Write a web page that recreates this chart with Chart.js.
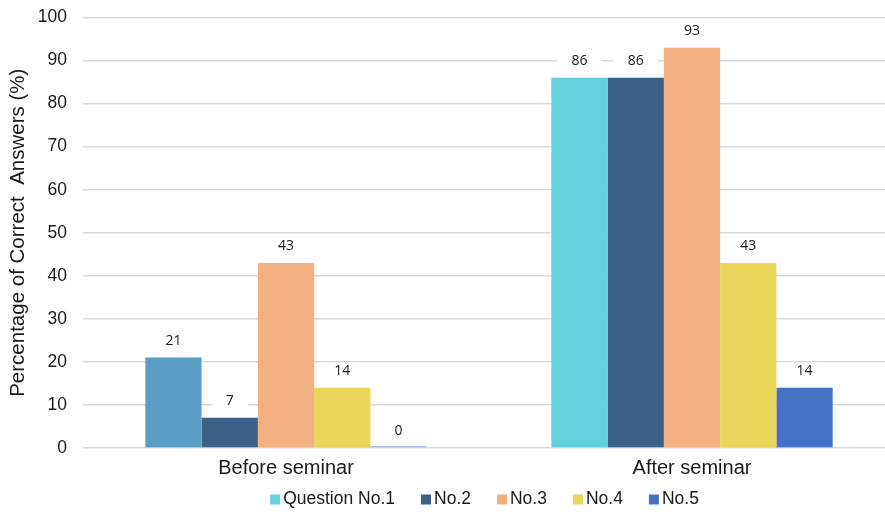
<!DOCTYPE html>
<html>
<head>
<meta charset="utf-8">
<script src="https://cdn.jsdelivr.net/npm/chart.js@4.4.0/dist/chart.umd.min.js"></script>
<style>
  html, body { margin: 0; padding: 0; background: #ffffff; overflow: hidden; }
  #wrap { position: relative; width: 895px; height: 514px; }
</style>
</head>
<body>
<div id="wrap"><canvas id="chart"></canvas></div>
<script>
// Categories (x axis)
const categories = ['Before seminar', 'After seminar'];

// Series names
const seriesNames = ['Question No.1', 'No.2', 'No.3', 'No.4', 'No.5'];

// Percentage of correct answers per question
const q1 = [21, 86];
const q2 = [7, 86];
const q3 = [43, 93];
const q4 = [14, 43];
const q5 = [0, 14];

// Y axis ticks
const yTicks = [0, 10, 20, 30, 40, 50, 60, 70, 80, 90, 100];

// Fill colours: one per bar, and one swatch per legend entry
const barColors = [
  ['#5A9EC5', '#62D1DB'],
  ['#3A6186', '#3A6186'],
  ['#F3B083', '#F3B083'],
  ['#EAD65A', '#EAD65A'],
  ['#A9BDE2', '#4472C4']
];
const legendColors = ['#62D1DB', '#3A6186', '#F3B083', '#EAD65A', '#4472C4'];

const seriesValues = [q1, q2, q3, q4, q5];

const datasets = seriesValues.map((vals, i) => ({
  label: seriesNames[i],
  data: vals,
  backgroundColor: barColors[i],
  borderWidth: 0,
  minBarLength: i === 4 ? 2 : 0,
  categoryPercentage: 0.693,
  barPercentage: 1.0
}));

const FONT = '"Liberation Sans", Arial, sans-serif';
const TEXT = '#1a1a1a';

// Value labels above each bar on a white plate
const valueLabels = {
  id: 'valueLabels',
  afterDatasetsDraw(chart) {
    const ctx = chart.ctx;
    ctx.save();
    ctx.font = '14px "Open Sans", "DejaVu Sans", sans-serif';
    ctx.textAlign = 'center';
    ctx.textBaseline = 'middle';
    chart.data.datasets.forEach((ds, di) => {
      const meta = chart.getDatasetMeta(di);
      meta.data.forEach((bar, i) => {
        const v = ds.data[i];
        const yTop = chart.scales.y.getPixelForValue(v);
        const cy = yTop - 17;
        const text = String(v);
        const w = ctx.measureText(text).width + 28;
        ctx.fillStyle = '#ffffff';
        ctx.fillRect(bar.x - w / 2, cy - 8, w, 16);
        ctx.fillStyle = TEXT;
        ctx.fillText(text, bar.x, cy);
      });
    });
    ctx.restore();
  }
};

// Legend row below the category labels
const bottomLegend = {
  id: 'bottomLegend',
  afterDraw(chart) {
    const ctx = chart.ctx;
    ctx.save();
    ctx.font = '17.5px ' + FONT;
    ctx.textBaseline = 'middle';
    ctx.textAlign = 'left';
    const box = 10, gap = 3, itemGap = 26;
    const widths = seriesNames.map(n => ctx.measureText(n).width);
    const total = widths.reduce((a, w) => a + box + gap + w, 0) + itemGap * (seriesNames.length - 1);
    const center = chart.chartArea.left + (chart.chartArea.right - chart.chartArea.left) / 2 - 4.5;
    let x = center - total / 2;
    const y = 499.5;
    seriesNames.forEach((name, i) => {
      ctx.fillStyle = legendColors[i];
      ctx.fillRect(x, y - box / 2, box, box);
      ctx.fillStyle = TEXT;
      ctx.fillText(name, x + box + gap, y);
      x += box + gap + widths[i] + itemGap;
    });
    ctx.restore();
  }
};

new Chart(document.getElementById('chart'), {
  type: 'bar',
  data: { labels: categories, datasets },
  options: {
    responsive: true,
    maintainAspectRatio: false,
    animation: false,
    layout: { padding: { top: 17.5, left: 0, right: 0, bottom: 26 } },
    plugins: {
      tooltip: { enabled: false },
      legend: { display: false }
    },
    scales: {
      x: {
        grid: { display: false, drawTicks: false },
        border: { display: false },
        ticks: {
          color: TEXT,
          padding: 8,
          font: { family: FONT, size: 20 }
        },
        afterFit: (scale) => { scale.paddingLeft = 0; scale.paddingRight = 0; }
      },
      y: {
        min: 0,
        max: 100,
        afterBuildTicks: (scale) => { scale.ticks = yTicks.map(v => ({ value: v })); },
        grid: { color: '#D9D9D9', lineWidth: 1.5, drawTicks: false },
        border: { display: false },
        ticks: {
          color: TEXT,
          padding: 16,
          font: { family: FONT, size: 17.5 }
        },
        title: {
          display: true,
          text: 'Percentage of Correct  Answers (%)',
          color: TEXT,
          padding: { top: 6, bottom: 0 },
          font: { family: FONT, size: 20.5 }
        },
        afterFit: (scale) => {
          scale.width = 83;
          scale.paddingTop = 0;
          scale.paddingBottom = 0;
        }
      }
    }
  },
  plugins: [valueLabels, bottomLegend]
});
</script>
</body>
</html>
